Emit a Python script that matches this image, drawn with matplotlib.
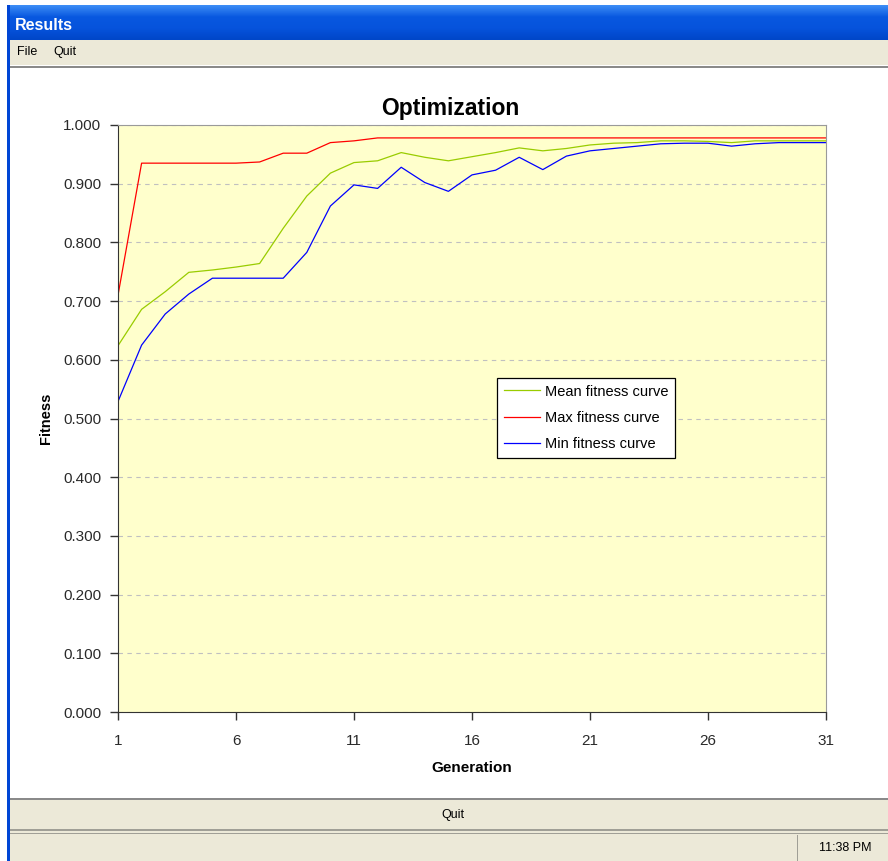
import numpy as np
import matplotlib
matplotlib.use("Agg")
from matplotlib import pyplot as plt
from matplotlib.patches import Rectangle

# Data

generations = list(range(1, 32))

mean_fitness = [0.624, 0.686, 0.716, 0.749, 0.753, 0.758, 0.764, 0.824, 0.879, 0.918,
                0.936, 0.939, 0.953, 0.945, 0.939, 0.946, 0.953, 0.961, 0.956, 0.960,
                0.966, 0.969, 0.970, 0.973, 0.973, 0.972, 0.970, 0.973, 0.973, 0.973,
                0.973]

max_fitness = [0.710, 0.935, 0.935, 0.935, 0.935, 0.935, 0.937, 0.952, 0.952, 0.970,
               0.973, 0.978, 0.978, 0.978, 0.978, 0.978, 0.978, 0.978, 0.978, 0.978,
               0.978, 0.978, 0.978, 0.978, 0.978, 0.978, 0.978, 0.978, 0.978, 0.978,
               0.978]

min_fitness = [0.529, 0.625, 0.678, 0.712, 0.739, 0.739, 0.739, 0.739, 0.783, 0.862,
               0.898, 0.892, 0.928, 0.902, 0.887, 0.915, 0.923, 0.945, 0.924, 0.947,
               0.956, 0.960, 0.964, 0.968, 0.969, 0.969, 0.964, 0.968, 0.970, 0.970,
               0.970]

xtick_values = [1, 6, 11, 16, 21, 26, 31]
ytick_values = [i / 10 for i in range(11)]

# Window settings (pixels)

W, H = 888, 861
BEIGE = "#ECE9D8"

plt.rcParams["font.family"] = ["Liberation Sans", "DejaVu Sans"]

fig = plt.figure(figsize=(W / 100, H / 100), dpi=100)
fig.patch.set_facecolor("white")


def px_rect(x, y, w, h, **kw):
    # rectangle given in screen pixels (top-left origin)
    r = Rectangle((x / W, 1 - (y + h) / H), w / W, h / H,
                  transform=fig.transFigure, **kw)
    fig.add_artist(r)
    return r


def px_text(x, y, s, **kw):
    fig.text(x / W, 1 - y / H, s, **kw)


# title bar with a gradient
tb = fig.add_axes([7 / W, 1 - 40 / H, (W - 7) / W, 35 / H])
grad = np.linspace(0, 1, 35).reshape(-1, 1)
tb.imshow(grad, aspect="auto", cmap=matplotlib.colors.LinearSegmentedColormap.from_list(
    "xp", ["#3C8CF5", "#0858E0", "#0653DC", "#0046C8"]), extent=[0, 1, 0, 1])
tb.set_axis_off()
px_text(15, 25, "Results", color="white", fontsize=11.5, fontweight="bold", va="center")

# left blue border
px_rect(7, 5, 3, H - 5, color="#0046D5", lw=0)

# menu bar
px_rect(10, 40, W - 10, 25, color=BEIGE, lw=0)
px_text(17, 52, "File", fontsize=9, va="center")
px_text(53, 52, "Quit", fontsize=9, va="center")
px_rect(10, 66, W - 10, 1.5, color="#8A8A8A", lw=0)

# bottom button + status bar
px_rect(10, 798, W - 10, 1.5, color="#8A8A8A", lw=0)
px_rect(10, 800, W - 10, 61, color=BEIGE, lw=0)
px_text(453, 815, "Quit", fontsize=9, ha="center", va="center")
px_rect(10, 829, W - 10, 2, color="#A09F96", lw=0)
px_rect(10, 833, W - 10, 1, color="#A09F96", lw=0)
px_rect(797, 835, 1, 26, color="#A09F96", lw=0)
px_text(845, 848, "11:38 PM", fontsize=9, ha="center", va="center")

# chart
ax = fig.add_axes([118 / W, 1 - 712 / H, 708 / W, 587 / H])
ax.set_facecolor("#FFFFCC")

ax.plot(generations, mean_fitness, color="#99CC00", lw=0.9, label="Mean fitness curve")
ax.plot(generations, max_fitness, color="#FF0000", lw=0.9, label="Max fitness curve")
ax.plot(generations, min_fitness, color="#0000FF", lw=0.9, label="Min fitness curve")

ax.set_xlim(1, 31)
ax.set_ylim(0, 1)
ax.set_xticks(xtick_values)
ax.set_xticklabels([str(v) for v in xtick_values])
ax.set_yticks(ytick_values)
ax.set_yticklabels([f"{v:.3f}" for v in ytick_values])
ax.tick_params(labelsize=11, length=6, width=1, color="#333333", labelcolor="#2A2A2A")
ax.tick_params(axis="x", pad=10)
ax.tick_params(axis="y", pad=6)
ax.yaxis.grid(True, ls=(0, (4, 4)), color="#C0C0C0", lw=0.8)
ax.set_axisbelow(True)

for side in ["top", "right"]:
    ax.spines[side].set_color("#9A9A9A")
for side in ["left", "bottom"]:
    ax.spines[side].set_color("#333333")

px_text(450, 108, "Optimization", fontsize=16.5, fontweight="bold", ha="center", va="center")
ax.set_xlabel("Generation", fontsize=11, fontweight="bold", labelpad=9)
ax.set_ylabel("Fitness", fontsize=10.5, fontweight="bold", labelpad=7)

leg = ax.legend(loc="upper left", bbox_to_anchor=((497 - 118) / 708, (712 - 378) / 587),
                borderaxespad=0, fontsize=10.5, frameon=True, fancybox=False,
                handlelength=2.5, borderpad=0.45, labelspacing=0.85, handletextpad=0.35)
leg.get_frame().set_edgecolor("black")
leg.get_frame().set_linewidth(0.9)
leg.get_frame().set_facecolor("white")
leg.get_frame().set_alpha(1)

fig.savefig("out.png", dpi=100)
